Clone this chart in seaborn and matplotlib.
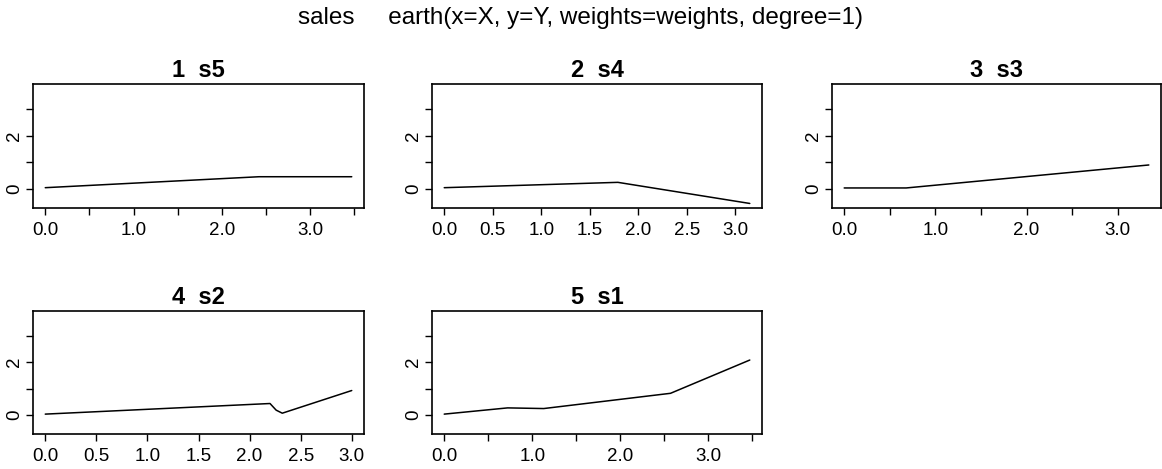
import matplotlib
matplotlib.use("Agg")
import matplotlib.pyplot as plt
import seaborn as sns
import pandas as pd
import numpy as np

# ---- data ----
titles = ["1  s5", "2  s4", "3  s3", "4  s2", "5  s1"]

s5_x = [0.0, 2.42, 3.47]
s5_y = [0.05, 0.46, 0.46]

s4_x = [0.0, 1.79, 3.15]
s4_y = [0.05, 0.25, -0.54]

s3_x = [0.0, 0.68, 3.34]
s3_y = [0.04, 0.04, 0.90]

s2_x = [0.0, 2.20, 2.26, 2.32, 3.00]
s2_y = [0.04, 0.44, 0.19, 0.075, 0.93]

s1_x = [0.0, 0.72, 1.13, 2.57, 3.47]
s1_y = [0.04, 0.275, 0.25, 0.825, 2.08]

xs = [s5_x, s4_x, s3_x, s2_x, s1_x]
ys = [s5_y, s4_y, s3_y, s2_y, s1_y]

x_ticks = [
    [0.0, 0.5, 1.0, 1.5, 2.0, 2.5, 3.0, 3.5],
    [0.0, 0.5, 1.0, 1.5, 2.0, 2.5, 3.0],
    [0.0, 0.5, 1.0, 1.5, 2.0, 2.5, 3.0],
    [0.0, 0.5, 1.0, 1.5, 2.0, 2.5, 3.0],
    [0.0, 0.5, 1.0, 1.5, 2.0, 2.5, 3.0, 3.5],
]
x_labels = [
    ["0.0", "", "1.0", "", "2.0", "", "3.0", ""],
    ["0.0", "0.5", "1.0", "1.5", "2.0", "2.5", "3.0"],
    ["0.0", "", "1.0", "", "2.0", "", "3.0"],
    ["0.0", "0.5", "1.0", "1.5", "2.0", "2.5", "3.0"],
    ["0.0", "", "1.0", "", "2.0", "", "3.0", ""],
]
y_ticks = [0, 1, 2, 3]
y_labels = ["0", "", "2", ""]
y_lim = (-0.71, 3.93)

suptitle = "sales     earth(x=X, y=Y, weights=weights, degree=1)"

# ---- style ----
sns.set_style("white")
plt.rcParams["font.family"] = ["Liberation Sans", "DejaVu Sans"]

W, H = 1162, 469
fig = plt.figure(figsize=(W / 100, H / 100), dpi=100)

cols = [(33, 364), (432, 762), (832, 1161)]
rows = [(84, 208), (311, 434)]
positions = [(0, 0), (0, 1), (0, 2), (1, 0), (1, 1)]

for i, (r, c) in enumerate(positions):
    l, rr = cols[c]
    t, b = rows[r]
    ax = fig.add_axes([l / W, 1 - b / H, (rr - l) / W, (b - t) / H])
    df = pd.DataFrame({"x": xs[i], "y": ys[i]})
    sns.lineplot(data=df, x="x", y="y", ax=ax, color="black", linewidth=1.1,
                 sort=False, estimator=None)
    xmin, xmax = min(xs[i]), max(xs[i])
    pad = 0.04 * (xmax - xmin)
    ax.set_xlim(xmin - pad, xmax + pad)
    ax.set_ylim(*y_lim)
    ax.set_xticks(x_ticks[i])
    ax.set_xticklabels(x_labels[i])
    ax.set_yticks(y_ticks)
    ax.set_yticklabels(y_labels, rotation=90, va="center")
    ax.tick_params(axis="both", direction="out", length=5, width=1.0,
                   labelsize=13.5, color="black", labelcolor="black",
                   bottom=True, left=True)
    ax.tick_params(axis="x", pad=5)
    ax.tick_params(axis="y", pad=2)
    ax.set_xlabel("")
    ax.set_ylabel("")
    for s in ax.spines.values():
        s.set_visible(True)
        s.set_color("black")
        s.set_linewidth(1.2)
    ax.set_title(titles[i], fontsize=17, fontweight="bold", pad=5,
                 color="black")

fig.text(0.5, 1 - 18 / H, suptitle, ha="center", va="center", fontsize=17.5,
         color="black")

fig.savefig("out.png", dpi=100)
